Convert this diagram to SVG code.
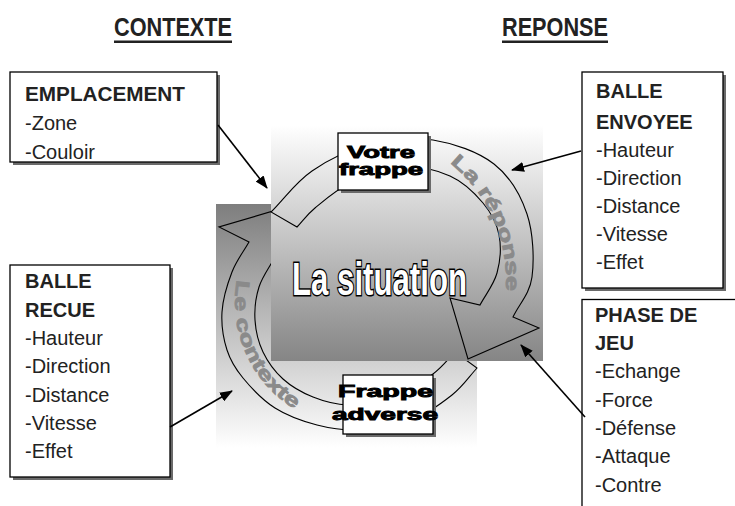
<svg xmlns="http://www.w3.org/2000/svg" width="735" height="506" viewBox="0 0 735 506">
<style>
.t{font-family:"Liberation Sans",Arial,sans-serif;font-size:20px;fill:#222}
.b{font-weight:bold}
.hd{font-family:"Liberation Sans",Arial,sans-serif;font-size:25px;font-weight:bold;fill:#222}
.box{fill:#fff;stroke:#000;stroke-width:1.3}
.sh{fill:#6a6a6a}
.ring{fill:none;stroke:#000;stroke-width:1.1}
.heavy{font-family:"Liberation Sans",Arial,sans-serif;font-size:16px;font-weight:bold;fill:#000;stroke:#000;stroke-width:0.9}
.arc{font-family:"Liberation Sans",Arial,sans-serif;font-size:19px;font-weight:bold;fill:#8a8a8a;stroke:#8a8a8a;stroke-width:0.8}
.conn{fill:none;stroke:#000;stroke-width:1.6;marker-end:url(#ah)}
</style>
<defs>
<linearGradient id="gA" x1="0" y1="0" x2="0" y2="1"><stop offset="0" stop-color="#ffffff"/><stop offset="1" stop-color="#858585"/></linearGradient>
<linearGradient id="gB" x1="0" y1="0" x2="0" y2="1"><stop offset="0" stop-color="#7e7e7e"/><stop offset="1" stop-color="#ffffff"/></linearGradient>
<marker id="ah" viewBox="0 0 13 10" refX="12" refY="5" markerWidth="13" markerHeight="10" orient="auto" markerUnits="userSpaceOnUse"><path d="M0,0 L13,5 L0,10 Z" fill="#000"/></marker>
<path id="pRep" d="M 450,163 A 150 150 0 0 1 505,298"/>
<path id="pCtx" d="M 237,280 A 125 125 0 0 0 300,412"/>
</defs>

<g id="background">
<rect x="216" y="204" width="261" height="244" fill="url(#gB)"/>
</g>

<g id="arrow-contexte">
<path class="ring" d="M 477,368 C 468.7,377 463.2,386.2 452,395 C 440.8,403.8 425.3,415.2 410,421 C 394.7,426.8 375.5,429.3 360,430 C 344.5,430.7 331.2,428.7 317,425 C 302.8,421.3 287.3,415.8 275,408 C 262.7,400.2 251,387.7 243,378 C 235,368.3 230.5,361 227,350 C 223.5,339 221.2,325 222,312 C 222.8,299 227.5,283.7 232,272 C 236.5,260.3 243.3,252 249,242 L 219,227 L 290,206 L 303,269 L 275,257 C 269.7,267 262.3,276.5 259,287 C 255.7,297.5 254.3,309.2 255,320 C 255.7,330.8 258.3,342.2 263,352 C 267.7,361.8 274.7,371.5 283,379 C 291.3,386.5 302.2,392.7 313,397 C 323.8,401.3 334.8,404.5 348,405 C 361.2,405.5 377.8,405.2 392,400 C 406.2,394.8 422.5,382 433,374 C 443.5,366 447.7,359.3 455,352 Z"/>
<text class="arc"><textPath href="#pCtx" textLength="150" lengthAdjust="spacingAndGlyphs">Le contexte</textPath></text>
</g>

<g id="situation">
<rect x="271" y="125" width="272" height="236" fill="url(#gA)"/>
<text x="292" y="295" textLength="175" lengthAdjust="spacingAndGlyphs" style="font-family:'Liberation Sans',Arial,sans-serif;font-size:46px;font-weight:bold;fill:#fff;stroke:#000;stroke-width:3;paint-order:stroke">La situation</text>
</g>

<g id="arrow-reponse">
<path class="ring" d="M 271,212 C 284.7,198.3 295.5,182.3 312,171 C 328.5,159.7 349.8,149.2 370,144 C 390.2,138.8 412.3,136.7 433,140 C 453.7,143.3 478.3,151.7 494,164 C 509.7,176.3 520.7,195.2 527,214 C 533.3,232.8 534.3,259.8 532,277 C 529.7,294.2 519.3,303.7 513,317 L 539,328 L 468,359 L 450,298 L 480,305 C 485.7,294.3 493.8,284.7 497,273 C 500.2,261.3 501.3,246.7 499,235 C 496.7,223.3 491.2,212.8 483,203 C 474.8,193.2 463.8,182.2 450,176 C 436.2,169.8 416.7,164.8 400,166 C 383.3,167.2 364.2,176 350,183 C 335.8,190 323.8,200.7 315,208 C 306.2,215.3 303,220.7 297,227 Z"/>
<text class="arc"><textPath href="#pRep" textLength="145" lengthAdjust="spacingAndGlyphs">La réponse</textPath></text>
</g>

<g id="votre-frappe">
<rect class="sh" x="341" y="136" width="90" height="57"/>
<rect class="box" x="338" y="133" width="90" height="57"/>
<text class="heavy" x="347" y="158" textLength="68" lengthAdjust="spacingAndGlyphs">Votre</text>
<text class="heavy" x="339" y="175" textLength="84" lengthAdjust="spacingAndGlyphs">frappe</text>
</g>

<g id="frappe-adverse">
<rect class="sh" x="346" y="378" width="90" height="59"/>
<rect class="box" x="343" y="375" width="90" height="59"/>
<text class="heavy" x="338" y="397" textLength="95" lengthAdjust="spacingAndGlyphs">Frappe</text>
<text class="heavy" x="332" y="420" textLength="106" lengthAdjust="spacingAndGlyphs">adverse</text>
</g>

<g id="title-contexte">
<text class="hd" x="114" y="36" textLength="118" lengthAdjust="spacingAndGlyphs">CONTEXTE</text>
<rect x="114" y="40.5" width="118" height="2.5" fill="#222"/>
</g>
<g id="title-reponse">
<text class="hd" x="502" y="36" textLength="106" lengthAdjust="spacingAndGlyphs">REPONSE</text>
<rect x="502" y="40.5" width="106" height="2.5" fill="#222"/>
</g>

<g id="emplacement">
<rect class="sh" x="13" y="75" width="207" height="90"/>
<rect class="box" x="10" y="72" width="207" height="90"/>
<text class="t b" x="25" y="101" textLength="160" lengthAdjust="spacingAndGlyphs">EMPLACEMENT</text>
<text class="t" x="25" y="130">-Zone</text>
<text class="t" x="25" y="159">-Couloir</text>
</g>

<g id="balle-envoyee">
<rect class="sh" x="585" y="75" width="141" height="216"/>
<rect class="box" x="582" y="72" width="141" height="216"/>
<text class="t b" x="596" y="98">BALLE</text>
<text class="t b" x="596" y="129">ENVOYEE</text>
<text class="t" x="596" y="157">-Hauteur</text>
<text class="t" x="596" y="185">-Direction</text>
<text class="t" x="596" y="213">-Distance</text>
<text class="t" x="596" y="241">-Vitesse</text>
<text class="t" x="596" y="269">-Effet</text>
</g>

<g id="balle-recue">
<rect class="sh" x="13" y="268" width="160" height="212"/>
<rect class="box" x="10" y="265" width="160" height="212"/>
<text class="t b" x="25" y="288">BALLE</text>
<text class="t b" x="25" y="317">RECUE</text>
<text class="t" x="25" y="345">-Hauteur</text>
<text class="t" x="25" y="373">-Direction</text>
<text class="t" x="25" y="402">-Distance</text>
<text class="t" x="25" y="430">-Vitesse</text>
<text class="t" x="25" y="458">-Effet</text>
</g>

<g id="phase-de-jeu">
<rect class="box" x="582" y="299.5" width="170" height="230"/>
<text class="t b" x="595" y="322">PHASE DE</text>
<text class="t b" x="595" y="350">JEU</text>
<text class="t" x="595" y="378">-Echange</text>
<text class="t" x="595" y="407">-Force</text>
<text class="t" x="595" y="435">-Défense</text>
<text class="t" x="595" y="463">-Attaque</text>
<text class="t" x="595" y="492">-Contre</text>
</g>

<g id="connectors">
<path class="conn" d="M 218,125 L 267,188"/>
<path class="conn" d="M 581,151 L 512,170"/>
<path class="conn" d="M 585,417 L 521,345"/>
<path class="conn" d="M 170,427 L 232,391"/>
</g>
</svg>
